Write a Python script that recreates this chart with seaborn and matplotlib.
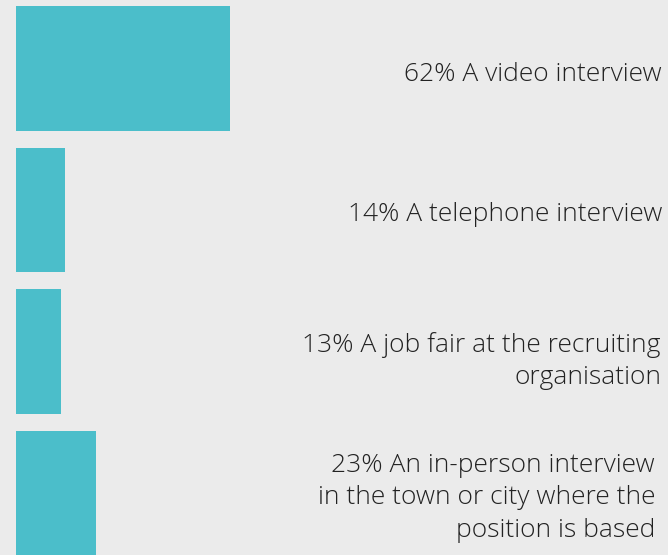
import matplotlib
matplotlib.use("Agg")
import matplotlib.pyplot as plt
import matplotlib.transforms as mtransforms
import seaborn as sns
import pandas as pd

categories = ["A video interview", "A telephone interview",
              "A job fair at the recruiting\norganisation",
              "An in-person interview\nin the town or city where the\nposition is based"]
values = [62, 14, 13, 23]
labels = ["62% A video interview", "14% A telephone interview",
          "13% A job fair at the recruiting\norganisation",
          "23% An in-person interview\nin the town or city where the\nposition is based"]

df = pd.DataFrame({"category": categories, "value": values})

sns.set_theme(style="white")
plt.rcParams['font.family'] = ['Open Sans', 'DejaVu Sans']

bg = "#ebebeb"
fig = plt.figure(figsize=(6.68, 5.55), dpi=100, facecolor=bg)
ax = fig.add_axes([0, 0, 1, 1])
ax.set_facecolor(bg)

sns.barplot(data=df, x="value", y="category", orient="h", color="#4bbeca",
            saturation=1, width=0.883, linewidth=0, ax=ax)

ax.set_xlim(-4.79, 189.2)
ax.set_ylim(3.438, -0.484)
for s in ax.spines.values():
    s.set_visible(False)
ax.set_xticks([])
ax.set_yticks([])
ax.set_xlabel("")
ax.set_ylabel("")

trans = mtransforms.blended_transform_factory(fig.transFigure, ax.transData)
xpos = [662, 662, 661, 655]
yoff = [0.04, 0.03, 0.065, 0.035]
for i, lab in enumerate(labels):
    ax.text(xpos[i] / 668, i + yoff[i], lab, transform=trans, ha="right", va="center",
            multialignment="right", fontsize=19, fontweight="light",
            color="#222222", linespacing=1.38)

fig.savefig("out.png", dpi=100, facecolor=bg)
